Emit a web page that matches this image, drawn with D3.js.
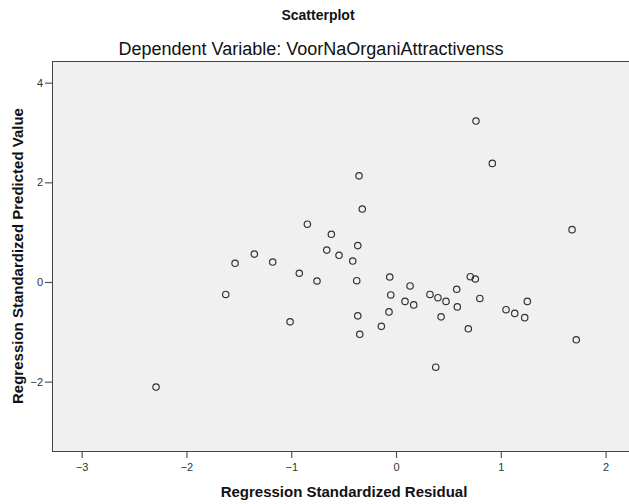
<!DOCTYPE html>
<html>
<head>
<meta charset="utf-8">
<script src="https://cdn.jsdelivr.net/npm/d3@7"></script>
<style>
  html, body { margin: 0; padding: 0; background: #ffffff; }
  svg { display: block; }
  text { font-family: Arial, "Liberation Sans", sans-serif; }
</style>
</head>
<body>
<svg id="chart" width="629" height="504"></svg>
<script>
// Regression residuals (x) against standardized predicted values (y)
const residuals = [
  -2.29, -1.625, -1.536, -1.352, -1.177, -1.011, -0.923, -0.846, -0.754, -0.661,
  -0.617, -0.544, -0.413, -0.365, -0.353, -0.322, -0.375, -0.365, -0.346, -0.14,
  -0.06, -0.067, -0.05, 0.086, 0.134, 0.169, 0.324, 0.40, 0.477, 0.43,
  0.379, 0.579, 0.585, 0.709, 0.757, 0.80, 0.69, 0.763, 0.919, 1.05,
  1.133, 1.228, 1.253, 1.68, 1.72
];
const predicted = [
  -2.11, -0.25, 0.375, 0.56, 0.40, -0.80, 0.175, 1.16, 0.02, 0.64,
  0.957, 0.536, 0.42, 0.73, 2.13, 1.465, 0.026, -0.68, -1.05, -0.89,
  0.10, -0.60, -0.26, -0.39, -0.08, -0.46, -0.25, -0.315, -0.39, -0.70,
  -1.71, -0.146, -0.50, 0.106, 0.06, -0.33, -0.94, 3.23, 2.38, -0.556,
  -0.63, -0.716, -0.39, 1.05, -1.16
];
const xTicks = [-3, -2, -1, 0, 1, 2];
const yTicks = [-2, 0, 2, 4];

const titleText = "Scatterplot";
const subtitleText = "Dependent Variable: VoorNaOrganiAttractivenss";
const xTitle = "Regression Standardized Residual";
const yTitle = "Regression Standardized Predicted Value";

const svg = d3.select("#chart");
const plot = { left: 52, top: 61, right: 632, bottom: 451 };

const x = d3.scaleLinear().domain([-3.283, 2.252]).range([plot.left, plot.right]);
const y = d3.scaleLinear().domain([-3.392, 4.435]).range([plot.bottom, plot.top]);

// plot background and frame
svg.append("rect")
  .attr("x", plot.left + 0.5).attr("y", plot.top + 0.5)
  .attr("width", plot.right - plot.left).attr("height", plot.bottom - plot.top)
  .attr("fill", "#f0f0f0")
  .attr("stroke", "#444").attr("stroke-width", 1);

// axes
const xAxis = d3.axisBottom(x).tickValues(xTicks).tickFormat(d3.format("d"))
  .tickSizeInner(6).tickSizeOuter(0).tickPadding(3);
const yAxis = d3.axisLeft(y).tickValues(yTicks).tickFormat(d3.format("d"))
  .tickSizeInner(7).tickSizeOuter(0).tickPadding(2);

const gx = svg.append("g").attr("transform", `translate(0,${plot.bottom + 1})`).call(xAxis);
const gy = svg.append("g").attr("transform", `translate(${plot.left},0)`).call(yAxis);

[gx, gy].forEach(g => {
  g.select(".domain").remove();
  g.selectAll(".tick line").attr("stroke", "#555").attr("stroke-width", 1.2);
  g.selectAll(".tick text")
    .attr("fill", "#333")
    .style("font-size", "11px")
    .style("font-family", "Arial, 'Liberation Sans', sans-serif");
});
gx.selectAll(".tick text").attr("dy", "0.9em");

// points
svg.append("g")
  .selectAll("circle")
  .data(residuals.map((r, i) => [r, predicted[i]]))
  .join("circle")
  .attr("cx", d => x(d[0]))
  .attr("cy", d => y(d[1]))
  .attr("r", 3.2)
  .attr("fill", "none")
  .attr("stroke", "#333")
  .attr("stroke-width", 1.2);

// titles
svg.append("text")
  .attr("x", 318).attr("y", 20)
  .attr("text-anchor", "middle")
  .style("font-size", "14px").style("font-weight", "bold")
  .attr("fill", "#111")
  .text(titleText);

svg.append("text")
  .attr("x", 311).attr("y", 55)
  .attr("text-anchor", "middle")
  .style("font-size", "18px")
  .attr("fill", "#111")
  .text(subtitleText);

svg.append("text")
  .attr("x", 344).attr("y", 497)
  .attr("text-anchor", "middle")
  .style("font-size", "15px").style("font-weight", "bold")
  .attr("fill", "#111")
  .text(xTitle);

svg.append("text")
  .attr("transform", "translate(23,256) rotate(-90)")
  .attr("text-anchor", "middle")
  .style("font-size", "15px").style("font-weight", "bold")
  .attr("fill", "#111")
  .text(yTitle);
</script>
</body>
</html>
